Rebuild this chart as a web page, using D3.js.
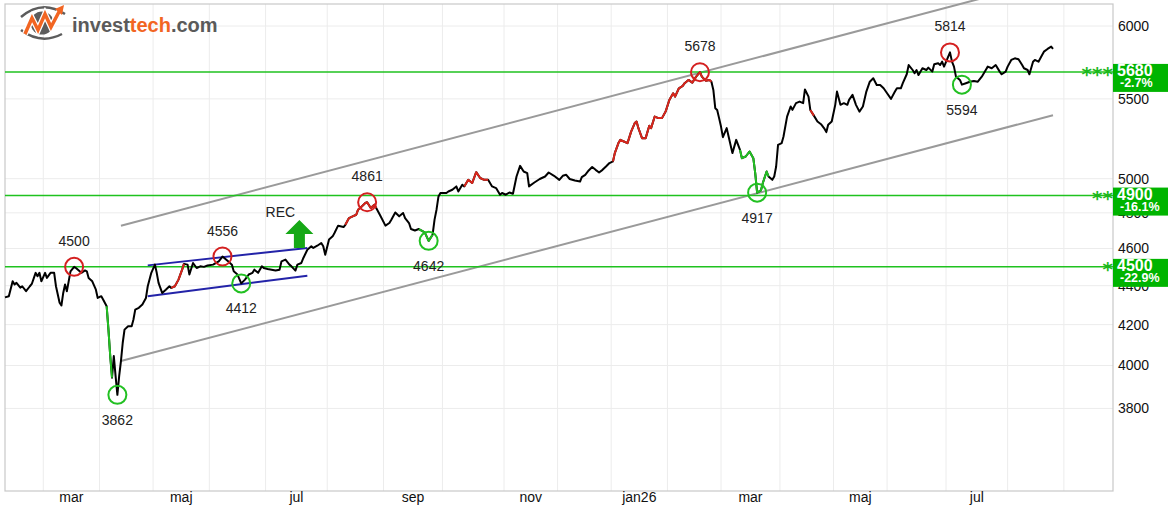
<!DOCTYPE html>
<html>
<head>
<meta charset="utf-8">
<script src="https://cdn.jsdelivr.net/npm/d3@7"></script>
<style>
  body { margin: 0; background: #fff; }
  svg { display: block; }
  text { font-family: "Liberation Sans", Arial, sans-serif; }
</style>
</head>
<body>
<svg id="chart" width="1174" height="515"></svg>
<script>
// daily closes
const dates = [
  "2025-02-09","2025-02-11","2025-02-13","2025-02-14","2025-02-15","2025-02-17","2025-02-18","2025-02-20","2025-02-22","2025-02-23",
  "2025-02-25","2025-02-26","2025-02-27","2025-02-28","2025-03-02","2025-03-03","2025-03-05","2025-03-07","2025-03-08","2025-03-10",
  "2025-03-11","2025-03-12","2025-03-13","2025-03-14","2025-03-15","2025-03-16","2025-03-18","2025-03-19","2025-03-22","2025-03-24",
  "2025-03-25","2025-03-26","2025-03-28","2025-03-30","2025-03-31","2025-04-02","2025-04-03","2025-04-05","2025-04-06","2025-04-07",
  "2025-04-08","2025-04-09","2025-04-10","2025-04-11","2025-04-12","2025-04-13","2025-04-14","2025-04-15","2025-04-17","2025-04-19",
  "2025-04-20","2025-04-21","2025-04-23","2025-04-25","2025-04-27","2025-04-28","2025-04-30","2025-05-02","2025-05-03","2025-05-04",
  "2025-05-06","2025-05-08","2025-05-10","2025-05-11","2025-05-13","2025-05-15","2025-05-17","2025-05-18","2025-05-20","2025-05-21",
  "2025-05-23","2025-05-25","2025-05-27","2025-05-29","2025-05-31","2025-06-03","2025-06-06","2025-06-08","2025-06-11","2025-06-13",
  "2025-06-14","2025-06-16","2025-06-18","2025-06-20","2025-06-22","2025-06-24","2025-06-25","2025-06-27","2025-06-29","2025-06-30",
  "2025-07-02","2025-07-06","2025-07-08","2025-07-09","2025-07-11","2025-07-13","2025-07-14","2025-07-16","2025-07-17","2025-07-19",
  "2025-07-20","2025-07-22","2025-07-24","2025-07-25","2025-07-27","2025-07-29","2025-07-30","2025-07-31","2025-08-02","2025-08-04",
  "2025-08-05","2025-08-07","2025-08-10","2025-08-11","2025-08-13","2025-08-15","2025-08-17","2025-08-18","2025-08-20","2025-08-22",
  "2025-08-23","2025-08-25","2025-08-27","2025-08-28","2025-08-30","2025-09-02","2025-09-04","2025-09-05","2025-09-07","2025-09-09",
  "2025-09-11","2025-09-12","2025-09-14","2025-09-15","2025-09-17","2025-09-19","2025-09-22","2025-09-24","2025-09-26","2025-09-27",
  "2025-09-28","2025-09-29","2025-09-30","2025-10-03","2025-10-04","2025-10-06","2025-10-08","2025-10-09","2025-10-11","2025-10-12",
  "2025-10-14","2025-10-16","2025-10-18","2025-10-20","2025-10-22","2025-10-24","2025-10-26","2025-10-28","2025-10-30","2025-10-31",
  "2025-11-02","2025-11-04","2025-11-06","2025-11-08","2025-11-10","2025-11-12","2025-11-14","2025-11-15","2025-11-18","2025-11-21",
  "2025-11-24","2025-11-26","2025-11-29","2025-12-02","2025-12-04","2025-12-06","2025-12-08","2025-12-11","2025-12-14","2025-12-15",
  "2025-12-17","2025-12-19","2025-12-21","2025-12-23","2025-12-25","2025-12-27","2025-12-29","2025-12-31","2026-01-02","2026-01-03",
  "2026-01-05","2026-01-06","2026-01-08","2026-01-10","2026-01-12","2026-01-14","2026-01-15","2026-01-16","2026-01-18","2026-01-20",
  "2026-01-22","2026-01-23","2026-01-25","2026-01-27","2026-01-29","2026-01-31","2026-02-02","2026-02-04","2026-02-05","2026-02-07",
  "2026-02-09","2026-02-10","2026-02-12","2026-02-14","2026-02-16","2026-02-18","2026-02-19","2026-02-21","2026-02-23","2026-02-24",
  "2026-02-25","2026-02-26","2026-02-27","2026-02-28","2026-03-01","2026-03-02","2026-03-04","2026-03-05","2026-03-07","2026-03-09",
  "2026-03-11","2026-03-12","2026-03-14","2026-03-16","2026-03-18","2026-03-19","2026-03-20","2026-03-22","2026-03-23","2026-03-25",
  "2026-03-26","2026-03-28","2026-03-29","2026-03-30","2026-03-31","2026-04-02","2026-04-03","2026-04-05","2026-04-07","2026-04-08",
  "2026-04-10","2026-04-12","2026-04-14","2026-04-15","2026-04-17","2026-04-18","2026-04-20","2026-04-22","2026-04-24","2026-04-26",
  "2026-04-27","2026-04-28","2026-04-30","2026-05-02","2026-05-03","2026-05-05","2026-05-07","2026-05-09","2026-05-10","2026-05-12",
  "2026-05-14","2026-05-16","2026-05-18","2026-05-20","2026-05-22","2026-05-24","2026-05-26","2026-05-28","2026-05-30","2026-06-01",
  "2026-06-03","2026-06-05","2026-06-06","2026-06-08","2026-06-09","2026-06-11","2026-06-12","2026-06-14","2026-06-15","2026-06-16",
  "2026-06-17","2026-06-19","2026-06-21","2026-06-22","2026-06-24","2026-06-25","2026-06-27","2026-06-28","2026-06-29","2026-06-30",
  "2026-07-03","2026-07-04","2026-07-05","2026-07-06","2026-07-08","2026-07-09","2026-07-11","2026-07-13","2026-07-15","2026-07-17",
  "2026-07-19","2026-07-21","2026-07-22","2026-07-24","2026-07-26","2026-07-28","2026-07-29","2026-07-31","2026-08-01","2026-08-03",
  "2026-08-05","2026-08-07","2026-08-09","2026-08-10","2026-08-12","2026-08-13","2026-08-15","2026-08-16","2026-08-18","2026-08-20",
  "2026-08-21","2026-08-23","2026-08-25","2026-08-26"
];
const closes = [
  4339,4345,4423,4406,4415,4390,4397,4371,4397,4409,
  4468,4450,4468,4423,4468,4441,4468,4468,4397,4311,
  4297,4362,4406,4371,4423,4476,4500,4494,4468,4481,
  4476,4441,4423,4379,4336,4345,4328,4293,4175,4045,
  3942,4045,3949,3862,3949,4021,4110,4175,4192,4192,
  4226,4276,4285,4302,4336,4397,4468,4512,4468,4415,
  4362,4379,4397,4388,4397,4432,4485,4516,4512,4459,
  4521,4494,4503,4500,4507,4512,4530,4556,4530,4512,
  4476,4459,4412,4432,4459,4468,4485,4468,4503,4494,
  4489,4480,4485,4530,4539,4512,4503,4480,4512,4521,
  4548,4593,4612,4603,4615,4630,4612,4566,4649,4667,
  4686,4727,4719,4732,4770,4780,4789,4818,4837,4857,
  4861,4828,4847,4828,4789,4727,4742,4761,4802,4780,
  4799,4770,4742,4708,4700,4708,4689,4642,4676,4761,
  4818,4895,4915,4915,4924,4934,4954,4924,4964,4954,
  4993,4974,5039,5004,4993,4993,4954,4944,4905,4915,
  4905,4918,4911,5013,5077,5043,5033,4954,4977,4998,
  5013,5037,5017,4993,5017,5023,4998,4989,4983,5009,
  5023,5049,5070,5053,5037,5053,5073,5094,5104,5155,
  5217,5237,5227,5217,5289,5343,5353,5311,5248,5248,
  5326,5311,5385,5375,5375,5417,5493,5537,5515,5570,
  5586,5604,5626,5608,5648,5678,5648,5621,5626,5614,
  5559,5439,5428,5375,5321,5254,5311,5258,5155,5237,
  5175,5124,5134,5165,5124,5033,4917,4930,4974,5043,
  5013,4993,5013,5073,5206,5217,5258,5385,5450,5428,
  5472,5482,5472,5562,5515,5428,5391,5353,5336,5306,
  5286,5332,5353,5461,5548,5461,5472,5461,5493,5526,
  5461,5417,5450,5548,5614,5637,5592,5592,5570,5537,
  5500,5548,5570,5570,5604,5664,5727,5693,5671,5693,
  5659,5705,5693,5709,5682,5732,5739,5727,5750,5716,
  5814,5750,5716,5648,5626,5594,5604,5614,5619,5614,
  5648,5693,5716,5705,5727,5682,5664,5682,5716,5762,
  5773,5766,5727,5705,5693,5664,5750,5762,5750,5796,
  5819,5838,5854,5838
];

// x axis: months and their trading days
const monthStarts = [
  "2025-02-01","2025-03-01","2025-04-01","2025-05-01","2025-06-01","2025-07-01","2025-08-01",
  "2025-09-01","2025-10-01","2025-11-01","2025-12-01","2026-01-01","2026-02-01","2026-03-01",
  "2026-04-01","2026-05-01","2026-06-01","2026-07-01","2026-08-01","2026-09-01","2026-10-01"
];
const tradingDays = [20,21,20,21,21,23,21,22,23,20,20,21,20,22,20,20,22,23,21,22];
const labelMonths = ["2025-03-01","2025-05-01","2025-07-01","2025-09-01","2025-11-01","2026-01-01","2026-03-01","2026-05-01","2026-07-01"];
const monthLabels = ["mar","maj","jul","sep","nov","jan26","mar","maj","jul"];
const viewStart = "2025-02-09", viewEnd = "2026-09-26";

// y axis
const yTicks = [3800, 4000, 4200, 4400, 4600, 4800, 5000, 5500, 6000];
const yDomain = [3443, 6160];

// support / resistance levels
const levels = [4500, 4900, 5680];
const levelStars = ["*", "**", "***"];
const levelPct = ["-22.9%", "-16.1%", "-2.7%"];

// tops and bottoms
const topDates = ["2025-03-18","2025-06-08","2025-08-23","2026-02-18","2026-07-03"];
const topValues = [4500, 4556, 4861, 5678, 5814];
const bottomDates = ["2025-04-11","2025-06-18","2025-09-24","2026-03-20","2026-07-09"];
const bottomValues = [3862, 4412, 4642, 4917, 5594];

// rising trend channel
const channelDates = ["2025-04-13", "2026-08-26"];
const channelUpper = [4727, 6343];
const channelLower = [4021, 5394];

// rectangle formation
const rectDates = ["2025-04-28", "2025-07-22"];
const rectUpper = [4508, 4603];
const rectLower = [4345, 4453];
const recDate = "2025-07-18", recValue = 4603;

// coloured stretches of the price curve
const redSpans = [["2025-05-11","2025-05-18"],["2025-08-11","2025-08-28"],["2025-10-12","2025-10-24"],["2026-01-02","2026-02-24"],["2026-04-18","2026-04-20"]];
const greenSpans = [["2025-04-05","2025-04-08"],["2025-09-19","2025-09-26"],["2026-03-11","2026-03-26"]];

const plotLeft = 5, plotRight = 1113, plotTop = 4, plotBottom = 491;
const parse = d3.utcParse("%Y-%m-%d");
const svg = d3.select("#chart");

// trading-day based time axis
const cum = [0];
tradingDays.forEach(n => cum.push(cum[cum.length - 1] + n));
const dayIndex = d3.scaleUtc().domain(monthStarts.map(parse)).range(cum);
const idxScale = d3.scaleLinear()
  .domain([dayIndex(parse(viewStart)), dayIndex(parse(viewEnd))])
  .range([plotLeft, plotRight]);
const x = d3.scaleUtc().domain(monthStarts.map(parse)).range(cum.map(idxScale));
const y = d3.scaleLog().domain(yDomain).range([plotBottom, plotTop]);

const data = dates.map((d, i) => ({ date: parse(d), close: closes[i] }));
const line = d3.line().x(d => x(d.date)).y(d => y(d.close));

// grid
const grid = svg.append("g");
grid.selectAll(".vg")
  .data(monthStarts.map(parse).filter(d => x(d) > plotLeft && x(d) < plotRight))
  .enter().append("line")
  .attr("x1", d => x(d)).attr("x2", d => x(d))
  .attr("y1", plotTop).attr("y2", plotBottom)
  .attr("stroke", "#ececec").attr("stroke-width", 1);
grid.selectAll(".hg").data(yTicks).enter().append("line")
  .attr("x1", plotLeft).attr("x2", plotRight)
  .attr("y1", d => y(d)).attr("y2", d => y(d))
  .attr("stroke", "#ececec").attr("stroke-width", 1);

svg.append("rect")
  .attr("x", plotLeft).attr("y", plotTop)
  .attr("width", plotRight - plotLeft).attr("height", plotBottom - plotTop)
  .attr("fill", "none").attr("stroke", "#c8c8c8").attr("stroke-width", 1.2);

// month labels, centred in the month
const labelPos = labelMonths.map(m => {
  const i = monthStarts.indexOf(m);
  return (x(parse(m)) + x(parse(monthStarts[i + 1]))) / 2;
});
svg.append("g").selectAll("text").data(monthLabels).enter().append("text")
  .attr("x", (d, i) => labelPos[i]).attr("y", 502)
  .attr("text-anchor", "middle")
  .attr("font-size", 14).attr("fill", "#111")
  .text(d => d);

// y tick labels
svg.append("g").selectAll("text").data(yTicks).enter().append("text")
  .attr("x", 1118).attr("y", d => y(d) + 5)
  .attr("font-size", 14).attr("fill", "#111")
  .text(d => d);

// trend channel
[channelUpper, channelLower].forEach(vals => {
  svg.append("path")
    .attr("d", line(channelDates.map((d, i) => ({ date: parse(d), close: vals[i] }))))
    .attr("fill", "none").attr("stroke", "#9a9a9a").attr("stroke-width", 2);
});

// support / resistance lines
svg.append("g").selectAll("line").data(levels).enter().append("line")
  .attr("x1", plotLeft).attr("x2", plotRight)
  .attr("y1", d => y(d)).attr("y2", d => y(d))
  .attr("stroke", "#1fc21f").attr("stroke-width", 1.5);

// rectangle formation
[rectUpper, rectLower].forEach(vals => {
  svg.append("path")
    .attr("d", line(rectDates.map((d, i) => ({ date: parse(d), close: vals[i] }))))
    .attr("fill", "none").attr("stroke", "#2323a8").attr("stroke-width", 2);
});

// price curve
svg.append("path").attr("d", line(data))
  .attr("fill", "none").attr("stroke", "#000").attr("stroke-width", 2)
  .attr("stroke-linejoin", "round");

function drawSpans(spans, colour) {
  spans.forEach(s => {
    const a = parse(s[0]), b = parse(s[1]);
    const part = data.filter(d => d.date >= a && d.date <= b);
    svg.append("path").attr("d", line(part))
      .attr("fill", "none").attr("stroke", colour).attr("stroke-width", 2)
      .attr("stroke-linejoin", "round");
  });
}
drawSpans(redSpans, "#d8261c");
drawSpans(greenSpans, "#22c022");

// tops and bottoms
function drawExtremes(ds, vs, colour, dy) {
  const g = svg.append("g");
  ds.forEach((d, i) => {
    const cx = x(parse(d)), cy = y(vs[i]);
    g.append("circle").attr("cx", cx).attr("cy", cy).attr("r", 9)
      .attr("fill", "none").attr("stroke", colour).attr("stroke-width", 2);
    g.append("text").attr("x", cx).attr("y", cy + dy)
      .attr("text-anchor", "middle").attr("font-size", 14).attr("fill", "#222")
      .text(vs[i]);
  });
}
drawExtremes(topDates, topValues, "#d42020", -21);
drawExtremes(bottomDates, bottomValues, "#22c022", 30);

// buy signal arrow
const ax = x(parse(recDate)), ay = y(recValue);
svg.append("path")
  .attr("d", `M${ax - 5.5},${ay} L${ax - 5.5},${ay - 14} L${ax - 14},${ay - 14} L${ax},${ay - 28} L${ax + 14},${ay - 14} L${ax + 5.5},${ay - 14} L${ax + 5.5},${ay} Z`)
  .attr("fill", "#16a816");
svg.append("text").attr("x", ax - 19).attr("y", ay - 31)
  .attr("text-anchor", "middle").attr("font-size", 14).attr("fill", "#222")
  .text("REC");

// level boxes on the right axis
levels.forEach((v, i) => {
  const ly = y(v);
  svg.append("rect").attr("x", plotRight).attr("y", ly - 8)
    .attr("width", 55).attr("height", 28).attr("fill", "#00b400");
  svg.append("text").attr("x", 1117).attr("y", ly + 4)
    .attr("font-size", 16).attr("font-weight", "bold").attr("fill", "#fff")
    .text(v);
  svg.append("text").attr("x", 1120).attr("y", ly + 15)
    .attr("font-size", 12.5).attr("font-weight", "bold").attr("fill", "#fff")
    .text(levelPct[i]);
  svg.append("text").attr("x", plotRight).attr("y", ly + 9)
    .attr("text-anchor", "end")
    .style("font-family", "'DejaVu Sans', sans-serif")
    .attr("font-size", 20).attr("font-weight", "bold").attr("fill", "#1cb81c")
    .text(levelStars[i]);
});

// logo
const logo = svg.append("g");
logo.append("circle").attr("cx", 42).attr("cy", 23).attr("r", 11.5).attr("fill", "#5c5c5c");
logo.append("path").attr("d", "M21,17 Q42,-1 65,14")
  .attr("fill", "none").attr("stroke", "#5c5c5c").attr("stroke-width", 2.5);
logo.append("path").attr("d", "M21,30 Q41,45 62,34")
  .attr("fill", "none").attr("stroke", "#5c5c5c").attr("stroke-width", 2.5);
logo.append("path").attr("d", "M25,34 L32,18 L38,30 L45,14 L51,27 L60,10")
  .attr("fill", "none").attr("stroke", "#fff").attr("stroke-width", 6).attr("stroke-linejoin", "miter");
logo.append("path").attr("d", "M25,34 L32,18 L38,30 L45,14 L51,27 L60,10")
  .attr("fill", "none").attr("stroke", "#f26522").attr("stroke-width", 3.5).attr("stroke-linejoin", "miter");
logo.append("path").attr("d", "M55,9 L64,5 L62,15 Z").attr("fill", "#f26522");
const lt = logo.append("text").attr("x", 72).attr("y", 32)
  .attr("font-size", 20).attr("font-weight", "bold");
lt.append("tspan").attr("fill", "#5a5a5a").text("invest");
lt.append("tspan").attr("fill", "#f26522").text("tech");
lt.append("tspan").attr("fill", "#5a5a5a").text(".com");
</script>
</body>
</html>
